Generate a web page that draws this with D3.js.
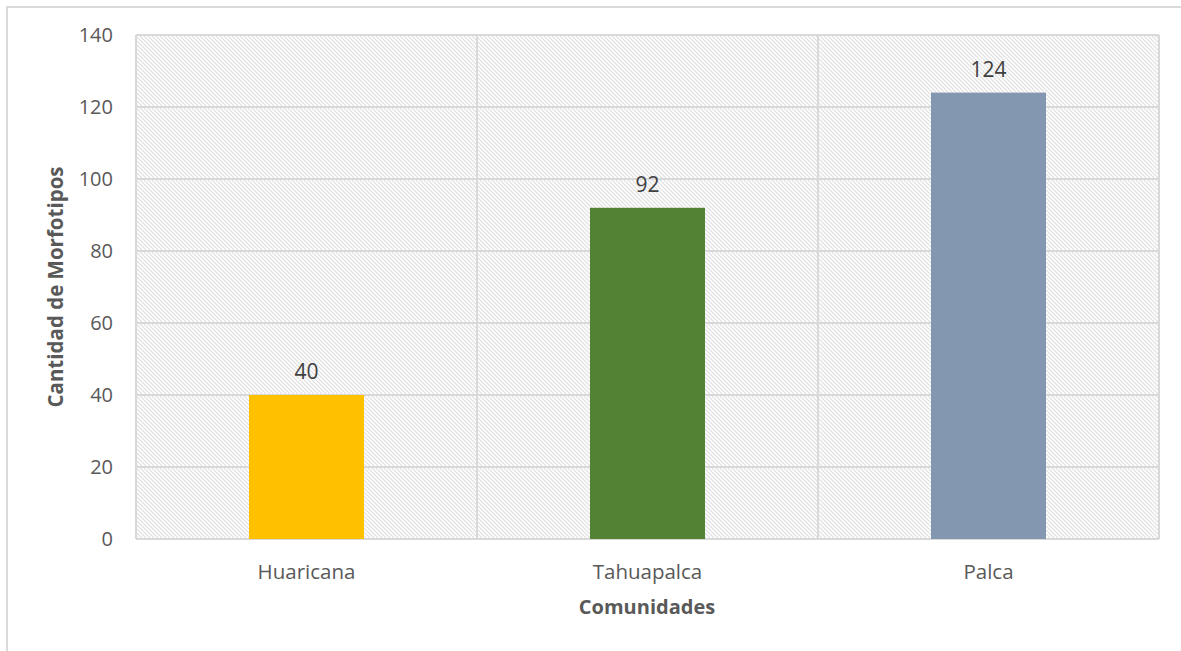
<!DOCTYPE html>
<html>
<head>
<meta charset="utf-8">
<script src="https://d3js.org/d3.v7.min.js"></script>
<style>
  body { margin: 0; background: #fff; }
  text { font-family: "Open Sans", "Noto Sans", sans-serif; }
</style>
</head>
<body>
<svg id="chart"></svg>
<script>
const categories = ["Huaricana", "Tahuapalca", "Palca"]
const values = [40, 92, 124]
const colors = ["#FFC000", "#548235", "#8497B0"]
const yTicks = [0, 20, 40, 60, 80, 100, 120, 140]

const W = 1181, H = 651
const svg = d3.select("#chart").attr("width", W).attr("height", H)

// outer frame (cut at right/bottom)
svg.append("path")
    .attr("d", `M7,${H} L7,7 L${W},7`)
    .attr("fill", "none").attr("stroke", "#d9d9d9").attr("stroke-width", 2)

const pLeft = 136, pRight = 1159, pTop = 35, pBottom = 539

const defs = svg.append("defs")
const pat = defs.append("pattern")
    .attr("id", "hatch").attr("patternUnits", "userSpaceOnUse")
    .attr("width", 4).attr("height", 4)
pat.append("rect").attr("width", 4).attr("height", 4).attr("fill", "#fff")
pat.append("path")
    .attr("d", "M-1,-1 L5,5 M-1,3 L1,5 M3,-1 L5,1")
    .attr("stroke", "#dedede").attr("stroke-width", 1.1)

const x = d3.scaleBand().domain(categories).range([pLeft, pRight]).paddingInner(0).paddingOuter(0)
const y = d3.scaleLinear().domain([0, 140]).range([pBottom, pTop])

svg.append("rect")
    .attr("x", pLeft).attr("y", pTop)
    .attr("width", pRight - pLeft).attr("height", pBottom - pTop)
    .attr("fill", "url(#hatch)")

// gridlines
svg.append("g").selectAll("line").data(yTicks).enter().append("line")
    .attr("x1", pLeft).attr("x2", pRight)
    .attr("y1", d => y(d)).attr("y2", d => y(d))
    .attr("stroke", "#d9d9d9").attr("stroke-width", 2)

const vlines = categories.map(c => x(c)).concat([x.range()[1]])
svg.append("g").selectAll("line").data(vlines).enter().append("line")
    .attr("x1", d => d).attr("x2", d => d)
    .attr("y1", pTop).attr("y2", pBottom)
    .attr("stroke", "#d9d9d9").attr("stroke-width", 2)

// bars
const barW = 115
svg.append("g").selectAll("rect").data(values).enter().append("rect")
    .attr("x", (d, i) => x(categories[i]) + x.bandwidth() / 2 - barW / 2)
    .attr("y", d => y(d))
    .attr("width", barW)
    .attr("height", d => y(0) - y(d))
    .attr("fill", (d, i) => colors[i])

// data labels
svg.append("g").selectAll("text").data(values).enter().append("text")
    .attr("x", (d, i) => x(categories[i]) + x.bandwidth() / 2)
    .attr("y", d => y(d) - 16)
    .attr("text-anchor", "middle")
    .attr("font-size", 21).attr("fill", "#404040")
    .text(d => d)

// y tick labels
svg.append("g").selectAll("text").data(yTicks).enter().append("text")
    .attr("x", 113).attr("y", d => y(d) + 7)
    .attr("text-anchor", "end")
    .attr("font-size", 20).attr("fill", "#595959")
    .text(d => d)

// x labels
svg.append("g").selectAll("text").data(categories).enter().append("text")
    .attr("x", d => x(d) + x.bandwidth() / 2).attr("y", 579)
    .attr("text-anchor", "middle")
    .attr("font-size", 20.5).attr("fill", "#595959")
    .text(d => d)

svg.append("text")
    .attr("x", 647).attr("y", 614)
    .attr("text-anchor", "middle")
    .attr("font-size", 20).attr("font-weight", "bold").attr("fill", "#595959")
    .text("Comunidades")

svg.append("text")
    .attr("transform", `translate(63,${(pTop + pBottom) / 2}) rotate(-90)`)
    .attr("text-anchor", "middle")
    .attr("font-size", 20.5).attr("font-weight", "bold").attr("fill", "#595959")
    .text("Cantidad de Morfotipos")
</script>
</body>
</html>
